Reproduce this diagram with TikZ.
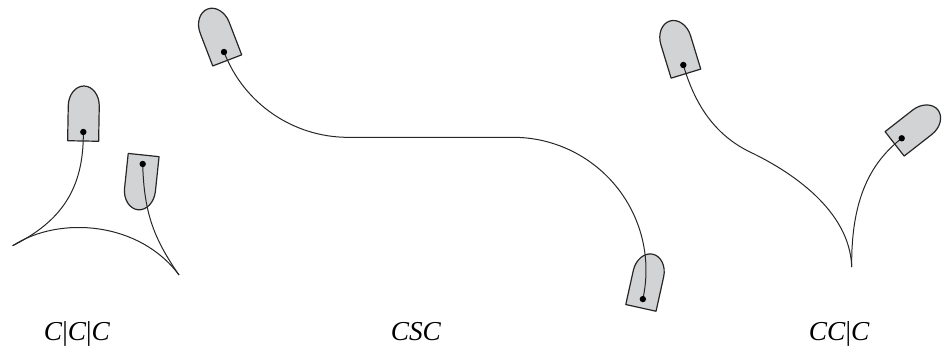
\documentclass[tikz,border=0pt]{standalone}
\usepackage{fontspec}
\setmainfont{Liberation Serif}
\definecolor{carfill}{RGB}{210,211,213}
\tikzset{
  carline/.style={draw=black!85, line width=0.9pt, fill=carfill, line join=round},
  pathline/.style={draw=black!85, line width=0.75pt},
  lab/.style={anchor=base, inner sep=0pt, font=\fontsize{20.5}{24}\selectfont},
  car/.pic={
    \path[carline] (-15.5,9) -- (-15.5,-26)
      arc[start angle=180, end angle=360, x radius=15.5, y radius=20]
      -- (15.5,9) -- cycle;
  }
}
\begin{document}
\begin{tikzpicture}[x=0.75pt, y=-0.75pt]
  \useasboundingbox (0,0) rectangle (947,346);

  % dot positions (rear axle centres)
  \coordinate (cA) at (83.3,132);
  \coordinate (cB) at (142.7,164);
  \coordinate (c2) at (224,52);
  \coordinate (c4) at (642.85,299.1);
  \coordinate (c5) at (683.3,65);
  \coordinate (c6) at (901.7,138.3);
  % cusps and switch points
  \coordinate (k1) at (12.7,245.7);
  \coordinate (k2) at (179,275);
  \coordinate (s1) at (348.2,137.3);
  \coordinate (s2) at (513,137.3);
  \coordinate (m5) at (750,152);
  \coordinate (k3) at (851.7,267);

  % cars
  \pic[rotate=-1]    at (cA) {car};
  \pic[rotate=174]   at (cB) {car};
  \pic[rotate=21]    at (c2) {car};
  \pic[rotate=-12.5] at (c4) {car};
  \pic[rotate=17]    at (c5) {car};
  \pic[rotate=-52]   at (c6) {car};

  % C|C|C
  \draw[pathline] (cA) .. controls (84,190) and (60,222) .. (k1);
  \draw[pathline] (k1) .. controls (60,215) and (140,222) .. (k2);
  \draw[pathline] (k2) .. controls (155,240) and (144,215) .. (cB);

  % CSC
  \draw[pathline] (c2) arc[start angle=159, end angle=90, radius=133]
    -- (s2) arc[start angle=-90, end angle=12.5, radius=133];

  % CC|C
  \draw[pathline] (c5) .. controls (695,105) and (715,135) .. (m5)
    .. controls (790,171) and (850,210) .. (k3);
  \draw[pathline] (k3) .. controls (851,200) and (870,163) .. (c6);

  % dots
  \foreach \c in {cA,cB,c2,c4,c5,c6} \fill[black] (\c) circle[radius=3.2];

  % labels
  \node[lab] (l1) at (77,340) {\textit{C}|\textit{C}|\textit{C}};
  \node[lab] (l2) at (416,340) {\textit{CSC}};
  \node[lab] (l3) at (839.2,340) {\textit{CC}|\textit{C}};
\end{tikzpicture}
\end{document}
